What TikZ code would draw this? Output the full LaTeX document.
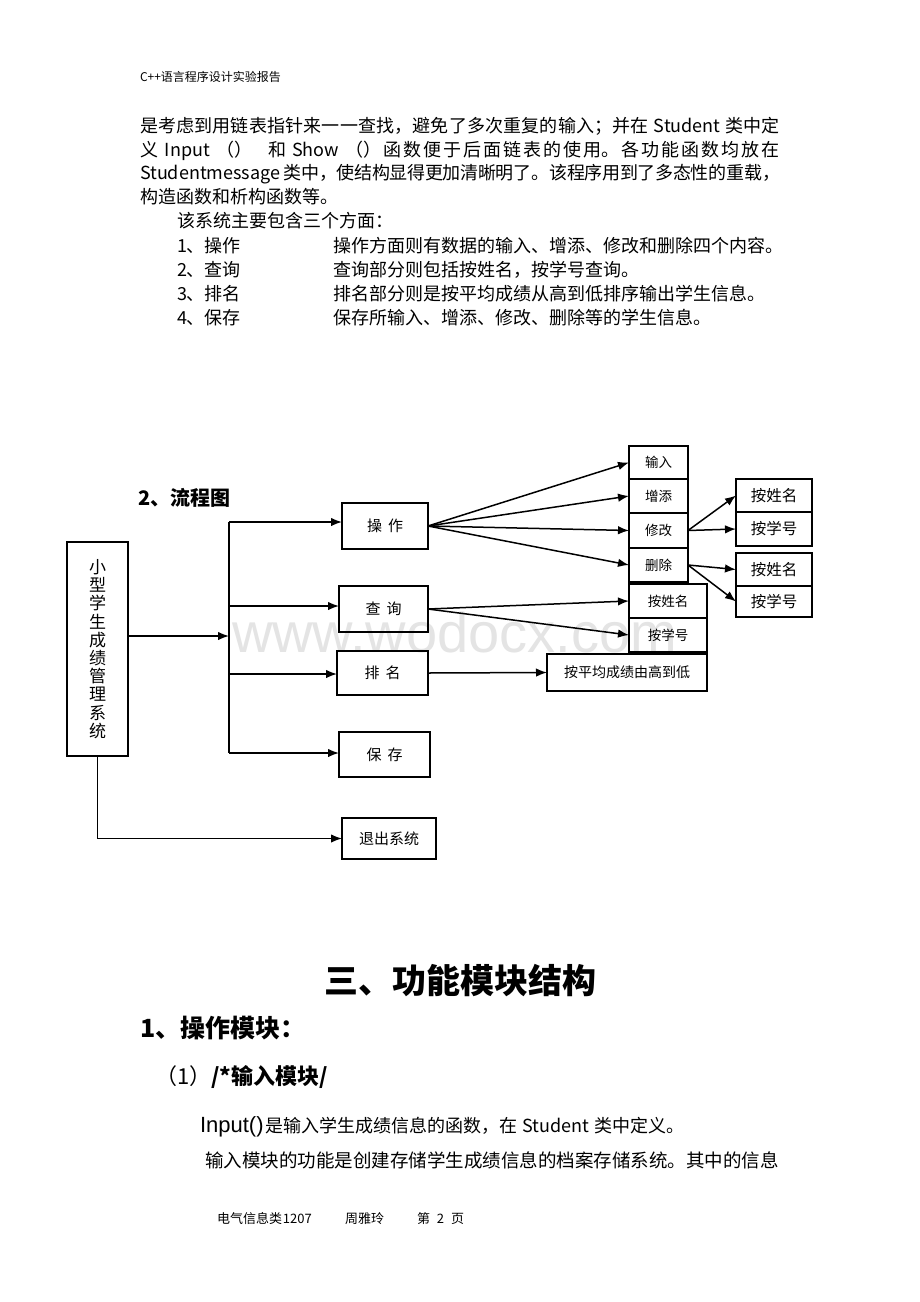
\documentclass[tikz,border=0pt]{standalone}
\usepackage{fontspec}
\setmainfont{Noto Sans CJK SC}
\newfontfamily\latinsans{Liberation Sans}
\XeTeXlinebreaklocale "zh"
\XeTeXlinebreakskip=0pt plus 4pt minus 0.5pt
\usetikzlibrary{arrows.meta}
\definecolor{markgray}{HTML}{E4E4E4}
\newcommand{\fsz}[1]{\fontsize{#1}{#1}\selectfont}
\newcommand{\gap}[1]{\hspace*{#1pt}}
\newcommand{\jline}[1]{\parbox[b]{640pt}{\XeTeXlinebreakpenalty=10000 \parfillskip=0pt\relax #1}}
\tikzset{
  txt/.style={anchor=base west, inner sep=0pt, outer sep=0pt},
  body/.style={txt, font=\fsz{18}},
  box/.style={draw, line width=1.2pt, inner sep=0pt, outer sep=0pt, align=center},
  bigbox/.style={box, font=\fsz{15}},
  smallbox/.style={box, font=\fsz{13.5}},
  ln/.style={line width=1.5pt},
  arr/.style={line width=1.5pt, -{Latex[length=11pt,width=8.5pt]}}
}

\begin{document}
\begin{tikzpicture}[x=1pt, y=-1pt]
  \fill[white] (0,0) rectangle (920,1302);
  \useasboundingbox (0,0) rectangle (920,1302);

  \node[txt, font=\latinsans\fsz{56}, text=markgray] (mark) at (232,652) {www.wodocx.com};

  \node[txt, font=\fsz{12}] (head) at (140,81.5) {C++语言程序设计实验报告};

  \node[body] (l1) at (140,132.5) {\jline{是考虑到用链表指针来一一查找，避免了多次重复的输入；并在\gap{5}Student\gap{5}类中定}};
  \node[body] (l2) at (140,156.5) {\jline{义\gap{7}Input\gap{6}（）\gap{16}和\gap{6}Show\gap{6}（）函数便于后面链表的使用。各功能函数均放在}};
  \node[body] (l3) at (140,179) {\jline{Studentmessage\gap{3}类中，使结构显得更加清晰明了。该程序用到了多态性的重载，}};
  \node[body] (l4) at (140,203) {构造函数和析构函数等。};
  \node[body] (l5) at (177,227.5) {该系统主要包含三个方面：};
  \node[body] (n1) at (177,252) {1、操作};
  \node[body] (d1) at (333,252) {操作方面则有数据的输入、增添、修改和删除四个内容。};
  \node[body] (n2) at (177,276) {2、查询};
  \node[body] (d2) at (333,276) {查询部分则包括按姓名，按学号查询。};
  \node[body] (n3) at (177,300) {3、排名};
  \node[body] (d3) at (333,300) {排名部分则是按平均成绩从高到低排序输出学生信息。};
  \node[body] (n4) at (177,324.5) {4、保存};
  \node[body] (d4) at (333,324.5) {保存所输入、增添、修改、删除等的学生信息。};

  \node[txt, font=\bfseries\fsz{20}] (flow) at (138,505) {2、流程图};

  \node[box, font=\fontsize{17}{18.2}\selectfont, minimum width=61pt, minimum height=214pt] (sys) at (97.5,649)
    {小\\型\\学\\生\\成\\绩\\管\\理\\系\\统};
  \node[bigbox, minimum width=86pt, minimum height=46pt] (op) at (385,526) {操\gap{6}作};
  \node[bigbox, minimum width=89pt, minimum height=46pt] (qry) at (383.5,609) {查\gap{6}询};
  \node[bigbox, minimum width=91pt, minimum height=44pt] (rank) at (382.5,673) {排\gap{6}名};
  \node[bigbox, minimum width=91pt, minimum height=45pt] (save) at (384.5,754.5) {保\gap{6}存};
  \node[bigbox, minimum width=94pt, minimum height=41pt] (quit) at (389,838.5) {退出系统};

  \node[smallbox, minimum width=59pt, minimum height=33pt] (in) at (658.5,462.5) {输入};
  \node[smallbox, minimum width=59pt, minimum height=34pt] (add) at (658.5,496) {增添};
  \node[smallbox, minimum width=59pt, minimum height=35pt] (mod) at (658.5,530.5) {修改};
  \node[smallbox, minimum width=59pt, minimum height=34pt] (del) at (658.5,565) {删除};

  \node[bigbox, font=\fsz{15.5}, minimum width=76pt, minimum height=33pt] (mname) at (774,495.5) {按姓名};
  \node[bigbox, font=\fsz{15.5}, minimum width=76pt, minimum height=34pt] (mnum) at (774,529) {按学号};
  \node[bigbox, font=\fsz{15.5}, minimum width=76pt, minimum height=33pt] (dname) at (774,569.5) {按姓名};
  \node[bigbox, font=\fsz{15.5}, minimum width=76pt, minimum height=31pt] (dnum) at (774,601.5) {按学号};

  \node[smallbox, minimum width=78pt, minimum height=34pt] (qname) at (668,601) {按姓名};
  \node[smallbox, minimum width=78pt, minimum height=34pt] (qnum) at (668,635) {按学号};
  \node[smallbox, font=\fsz{14}, minimum width=160pt, minimum height=37pt] (avg) at (627,672.5) {按平均成绩由高到低};

  \coordinate (stop) at (229,522);
  \coordinate (shub) at (229,636);
  \coordinate (sqry) at (229,606);
  \coordinate (srank) at (229,674);
  \coordinate (sbot) at (229,753);

  \draw[ln] (stop) -- (sbot);
  \draw[arr] (sys.east |- shub) -- (shub);
  \draw[arr] (stop) -- (stop -| op.west);
  \draw[arr] (sqry) -- (sqry -| qry.west);
  \draw[arr] (srank) -- (srank -| rank.west);
  \draw[arr] (sbot) -- (sbot -| save.west);
  \draw[arr] (sys.south) |- (quit.west);

  \draw[arr] (op.east) -- (in.west);
  \draw[arr] (op.east) -- (add.west);
  \draw[arr] (op.east) -- (mod.west);
  \draw[arr] (op.east) -- (del.west);
  \draw[arr] (mod.east) -- (mname.west);
  \draw[arr] (mod.east) -- (mnum.west);
  \draw[arr] (del.east) -- (dname.west);
  \draw[arr] (del.east) -- (dnum.west);
  \draw[arr] (qry.east) -- (qname.west);
  \draw[arr] (qry.east) -- (qnum.west);
  \draw[arr] (rank.east) -- (avg.west);

  \node[txt, font=\bfseries\fsz{34}, anchor=base] (sec) at (460,993) {三、功能模块结构};
  \node[txt, font=\bfseries\fsz{25}] (sub1) at (140,1037.5) {1、操作模块：};
  \node[txt, font=\fsz{22}] (sub2) at (155,1084.4) {（1）\textbf{/*输入模块/}};
  \node[body] (p1) at (200,1132) {{\latinsans\fsz{22}Input()}\gap{2}是输入学生成绩信息的函数，在\gap{5}Student\gap{5}类中定义。};
  \node[body, font=\fsz{18.5}] (p2) at (205,1167) {输入模块的功能是创建存储学生成绩信息的档案存储系统。其中的信息};

  \node[txt, font=\fsz{13}] (f1) at (217,1223) {电气信息类\gap{1}1207};
  \node[txt, font=\fsz{13}] (f2) at (345,1223) {周雅玲};
  \node[txt, font=\fsz{13}] (f3) at (417,1223) {第\gap{7}2\gap{7}页};
\end{tikzpicture}
\end{document}
